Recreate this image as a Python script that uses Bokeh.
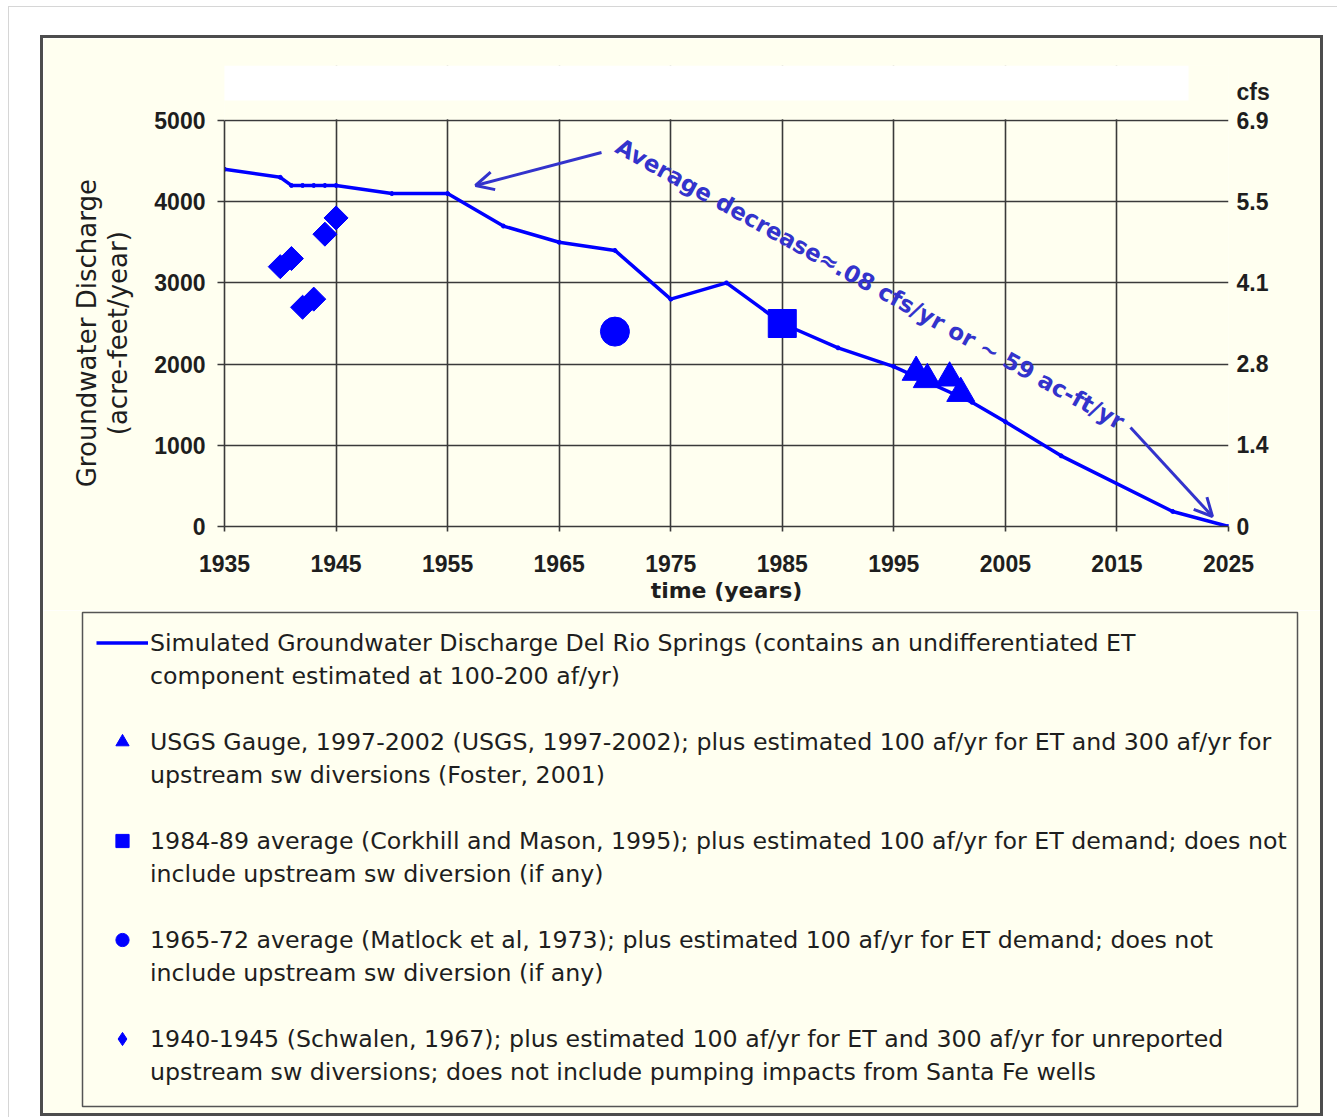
import math
from bokeh.plotting import figure
from bokeh.layouts import row, column
from bokeh.models import (Range1d, LinearAxis, FixedTicker, BoxAnnotation, Label,
                          Arrow, OpenHead, Legend, LegendItem, Spacer)
from bokeh.embed import file_html
from bokeh.resources import INLINE

# ---------------- data ----------------
years_sim = [1935, 1940, 1941, 1942, 1943, 1944, 1945, 1950, 1955, 1960, 1965, 1970,
             1975, 1980, 1985, 1990, 1995, 2002, 2005, 2010, 2020, 2025]
q_sim = [4400, 4300, 4200, 4200, 4200, 4200, 4200, 4100, 4100, 3700, 3500, 3400,
         2800, 3000, 2500, 2200, 1970, 1530, 1290, 870, 185, 0]

usgs_years = [1997, 1998, 2000, 2001]
usgs_q = [1900, 1810, 1830, 1640]

corkhill_years = [1985]
corkhill_q = [2500]

matlock_years = [1970]
matlock_q = [2400]

schwalen_years = [1940, 1941, 1942, 1943, 1944, 1945]
schwalen_q = [3200, 3300, 2700, 2800, 3600, 3800]

x_ticks = [1935, 1945, 1955, 1965, 1975, 1985, 1995, 2005, 2015, 2025]
y_ticks = [0, 1000, 2000, 3000, 4000, 5000]
cfs_labels = ["0", "1.4", "2.8", "4.1", "5.5", "6.9"]
cfs_unit = "cfs"
y_title_lines = ["Groundwater Discharge", "(acre-feet/year)"]

legend_labels = [
    "Simulated Groundwater Discharge Del Rio Springs (contains an undifferentiated ET\ncomponent estimated at 100-200 af/yr)",
    "USGS Gauge, 1997-2002 (USGS, 1997-2002); plus estimated 100 af/yr for ET and 300 af/yr for\nupstream sw diversions (Foster, 2001)",
    "1984-89 average (Corkhill and Mason, 1995); plus estimated 100 af/yr for ET demand; does not\ninclude upstream sw diversion (if any)",
    "1965-72 average (Matlock et al, 1973); plus estimated 100 af/yr for ET demand; does not\ninclude upstream sw diversion (if any)",
    "1940-1945 (Schwalen, 1967); plus estimated 100 af/yr for ET and 300 af/yr for unreported\nupstream sw diversions; does not include pumping impacts from Santa Fe wells",
]
annot_text = "Average decrease\u2248.08 cfs/yr or ~ 59 ac-ft/yr"

# ---------------- geometry (page pixels) ----------------
BOX_L, BOX_T, BOX_R, BOX_B, BW = 40, 35, 1323, 1116, 3      # outer framed box
FIG_X0, FIG_Y0 = BOX_L + BW, BOX_T + BW                      # figures origin on page
W = BOX_R - BOX_L - 2 * BW
SPLIT = 610                                                  # page y where legend figure starts
HP = SPLIT - FIG_Y0
HQ = (BOX_B - BW) - SPLIT
FX0, FX1, FY_TOP, FY1 = 224, 1228, 65, 526                   # plot frame (page)
Y5000_PX = 120
LG_L, LG_T, LG_R, LG_B = 82, 612, 1297, 1106                 # legend box (page)
XMIN, XMAX = 1935, 2025


def dx(px):
    return XMIN + (px - FX0) * (XMAX - XMIN) / (FX1 - FX0)


def dy(py):
    return (FY1 - py) * 5000 / (FY1 - Y5000_PX)


BLUE = "#0000FF"
ANN = "#3333CC"
CREAM = "#FFFFF0"
GRID = "#3a3a3a"
TXT = "#1e1e1e"

# ================= chart figure =================
p = figure(width=W, height=HP, output_backend="svg", toolbar_location=None,
           x_range=Range1d(XMIN, XMAX), y_range=Range1d(0, dy(FY_TOP)),
           min_border_left=FX0 - FIG_X0, min_border_right=W - (FX1 - FIG_X0),
           min_border_top=FY_TOP - FIG_Y0, min_border_bottom=HP - (FY1 - FIG_Y0),
           background_fill_color=CREAM, border_fill_color=CREAM)
p.outline_line_color = None
p.frame_align = False

p.xgrid.ticker = FixedTicker(ticks=x_ticks)
p.ygrid.ticker = FixedTicker(ticks=y_ticks)
for g in (p.xgrid[0], p.ygrid[0]):
    g.grid_line_color = GRID
    g.grid_line_width = 1.6

# cover the grid above the 5000 line, then the white band
p.add_layout(BoxAnnotation(left=dx(150), right=dx(1300), top=dy(0), bottom=dy(Y5000_PX - 1.2),
                           fill_color=CREAM, fill_alpha=1, line_alpha=0, level="underlay"))
p.add_layout(BoxAnnotation(left=dx(180), right=dx(1188), top=dy(65), bottom=dy(100),
                           fill_color="white", fill_alpha=1, line_alpha=0, level="underlay"))

xa = p.xaxis[0]
xa.ticker = FixedTicker(ticks=x_ticks)
xa.axis_label = "time (years)"
xa.axis_label_text_font = "DejaVu Sans"
xa.axis_label_text_font_style = "bold"
xa.axis_label_text_font_size = "22px"
xa.axis_label_text_color = TXT
xa.axis_label_standoff = 3
xa.major_label_standoff = 23
xa.major_tick_out = 5
xa.major_tick_in = 0

# the axis title is centred on the whole (taller) frame; trailing no-break spaces
# move it down so that it is centred on the 0-5000 part, as in the original
pad = "\u00a0" * 9
ya = p.yaxis[0]
ya.ticker = FixedTicker(ticks=y_ticks)
ya.bounds = (0, 5000)
ya.axis_label = "\n".join(line + pad for line in y_title_lines)
ya.axis_label_text_font = "DejaVu Sans"
ya.axis_label_text_font_style = "normal"
ya.axis_label_text_font_size = "26px"
ya.axis_label_text_line_height = 1.06
ya.axis_label_text_color = TXT
ya.axis_label_standoff = 18
ya.major_label_standoff = 12
ya.major_tick_out = 7
ya.major_tick_in = 0

cfs_tick = round(dy(92))
ra = LinearAxis(ticker=FixedTicker(ticks=y_ticks + [cfs_tick]),
                major_label_overrides={**{t: s for t, s in zip(y_ticks, cfs_labels)},
                                       cfs_tick: cfs_unit})
ra.major_label_standoff = 8
ra.major_tick_out = 0
ra.major_tick_in = 0
ra.axis_line_color = None
p.add_layout(ra, "right")

for ax in (xa, ya, ra):
    ax.major_label_text_font = "Liberation Sans"
    ax.major_label_text_font_style = "bold"
    ax.major_label_text_font_size = "23px"
    ax.major_label_text_color = TXT
    if ax is not ra:
        ax.axis_line_color = GRID
        ax.axis_line_width = 1.6
    ax.major_tick_line_color = GRID
    ax.major_tick_line_width = 1.6
    ax.minor_tick_line_color = None

LINE_STYLE = dict(line_color=BLUE, line_width=3.5)
MAT_STYLE = dict(marker="circle", color=BLUE)
COR_STYLE = dict(marker="square", color=BLUE)
USGS_STYLE = dict(marker="triangle", color=BLUE)

p.line(years_sim, q_sim, **LINE_STYLE)
p.scatter(years_sim, q_sim, marker="circle", size=4, color=BLUE)
p.scatter(schwalen_years, schwalen_q, marker="square", angle=math.pi / 4, size=17, color=BLUE)
p.scatter(matlock_years, matlock_q, size=29, **MAT_STYLE)
p.scatter(corkhill_years, corkhill_q, size=28, **COR_STYLE)
p.scatter(usgs_years, usgs_q, size=28, **USGS_STYLE)

p.add_layout(Label(x=dx(617), y=dy(144), text=annot_text, angle=-math.radians(28.9),
                   text_font="DejaVu Sans", text_font_style="bold", text_font_size="23px",
                   text_color=ANN, text_align="left", text_baseline="middle"))
p.add_layout(Arrow(end=OpenHead(size=18, line_color=ANN, line_width=3),
                   x_start=dx(601), y_start=dy(152), x_end=dx(475), y_end=dy(185),
                   line_color=ANN, line_width=3))
p.add_layout(Arrow(end=OpenHead(size=18, line_color=ANN, line_width=3),
                   x_start=dx(1130), y_start=dy(427), x_end=dx(1212), y_end=dy(516),
                   line_color=ANN, line_width=3))

# ================= legend figure =================
q = figure(width=W, height=HQ, output_backend="svg", toolbar_location=None,
           x_range=Range1d(0, 1), y_range=Range1d(0, 1),
           x_axis_location=None, y_axis_location=None,
           min_border_left=LG_L - FIG_X0, min_border_right=W - (LG_R - FIG_X0),
           min_border_top=LG_T - SPLIT, min_border_bottom=HQ - (LG_B - SPLIT),
           background_fill_color=CREAM, border_fill_color=CREAM)
q.outline_line_color = "#555555"
q.outline_line_width = 1.5
q.frame_align = False
q.grid.visible = False

# one off-screen point per legend swatch renderer
far = [-5.0]
proxies = [q.line(far, far, **LINE_STYLE),
           q.scatter(far, far, **USGS_STYLE),
           q.scatter(far, far, **COR_STYLE),
           q.scatter(far, far, **MAT_STYLE),
           q.scatter(far, far, marker="diamond", color=BLUE)]
ghost = q.scatter(far, far, marker="circle", fill_alpha=0, line_alpha=0)

items = []
for i, (lab, r) in enumerate(zip(legend_labels, proxies)):
    first, second = lab.split("\n")
    items.append(LegendItem(label=first, renderers=[r]))
    items.append(LegendItem(label=second, renderers=[ghost]))
    if i < len(legend_labels) - 1:
        items.append(LegendItem(label=" ", renderers=[ghost]))

legend = Legend(items=items, location="top_left",
                background_fill_alpha=0, border_line_alpha=0,
                label_text_font="DejaVu Sans", label_text_font_size="23.7px",
                label_text_color=TXT,
                glyph_width=52, glyph_height=33, label_height=33, label_standoff=2,
                spacing=0, padding=14, margin=0)
q.add_layout(legend, "center")


# ---------------- page layout: thin page rule + framed box ----------------
def bar(w, h, color):
    return Spacer(width=w, height=h, styles={"background-color": color})


DARK = "#4d4d4d"
boxed = column(bar(W + 2 * BW, BW, DARK),
               row(bar(BW, HP + HQ, DARK), column(p, q), bar(BW, HP + HQ, DARK)),
               bar(W + 2 * BW, BW, DARK))
root = column(Spacer(width=10, height=6),
              row(Spacer(width=8, height=1), bar(1329, 1, "#d6d6d6")),
              row(Spacer(width=8, height=10), bar(1, 1110, "#d6d6d6"),
                  Spacer(width=BOX_L - 9, height=10),
                  column(Spacer(width=10, height=BOX_T - 7), boxed)))

open("out.html", "w").write(file_html(root, INLINE))
